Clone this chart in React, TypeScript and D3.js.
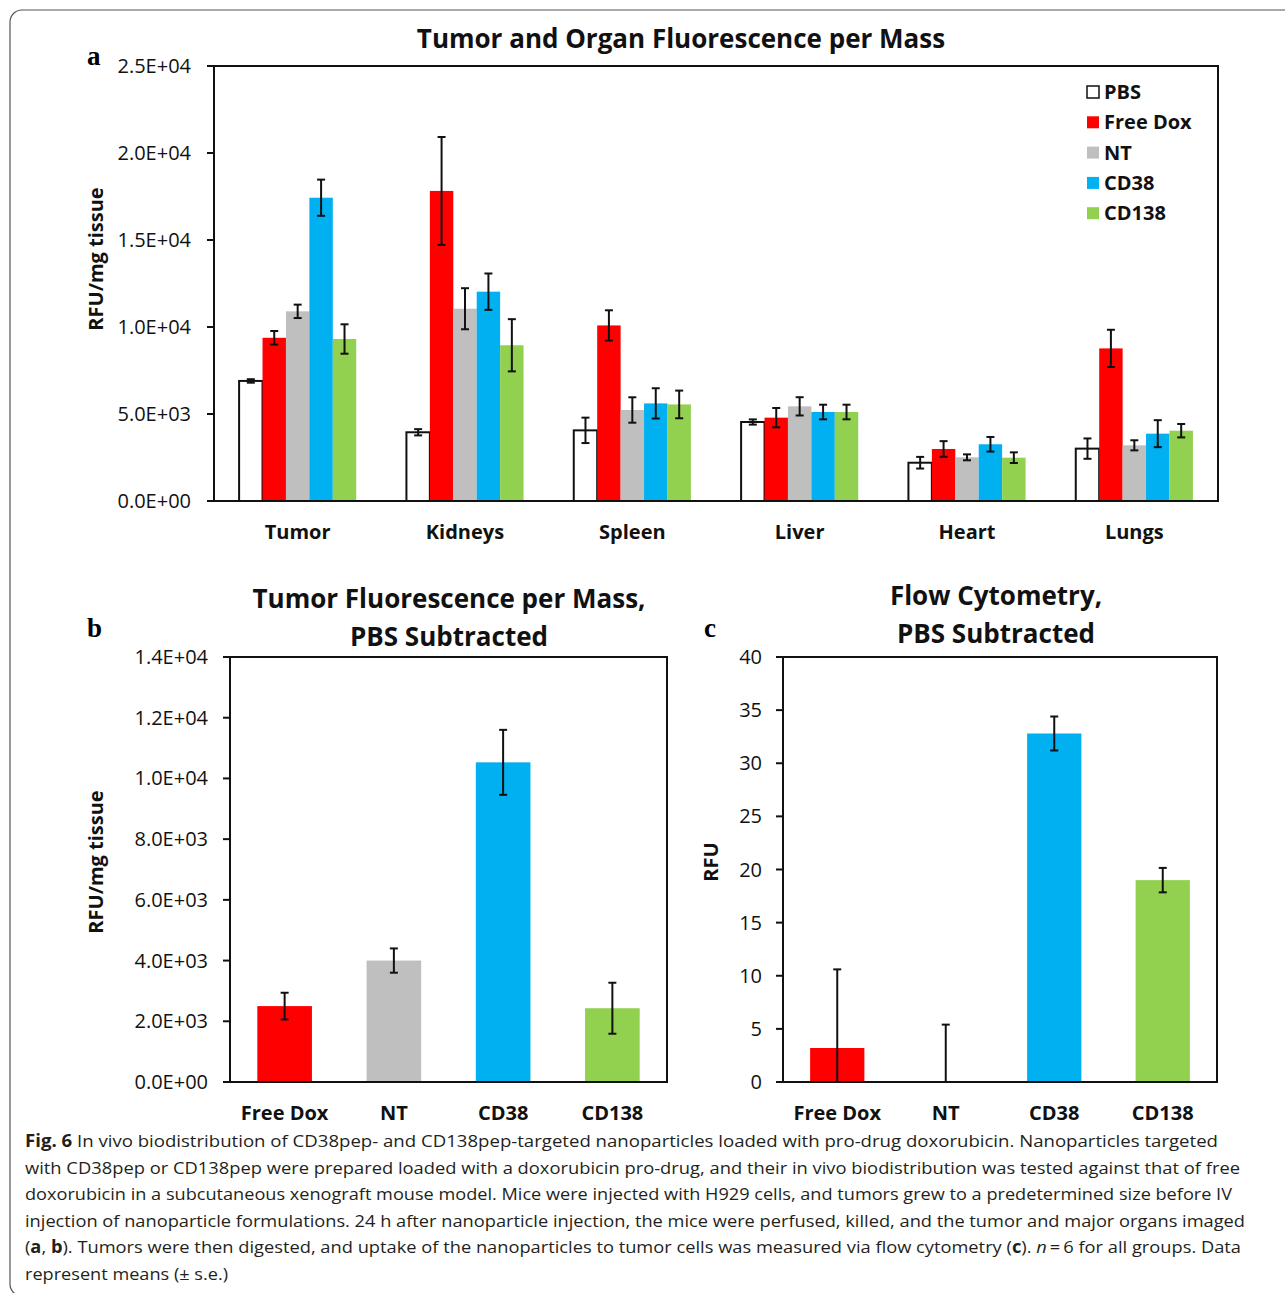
import React from "react";
import * as d3 from "d3";

const W = 1285;
const H = 1293;
const FONT = "'Open Sans', 'Noto Sans', sans-serif";
const SERIF = "'Liberation Serif', 'DejaVu Serif', serif";

// panel a: tumor and organ fluorescence per mass
const organs = ["Tumor", "Kidneys", "Spleen", "Liver", "Heart", "Lungs"];
const groups = ["PBS", "Free Dox", "NT", "CD38", "CD138"];
const groupColors = ["#ffffff", "#ff0000", "#bfbfbf", "#00b0f0", "#92d050"];
const pbsMeans = [6900, 3950, 4060, 4540, 2200, 3010];
const pbsErr = [100, 180, 730, 150, 335, 585];
const freeDoxMeans = [9380, 17820, 10090, 4790, 2990, 8770];
const freeDoxErr = [390, 3100, 870, 555, 450, 1070];
const ntMeans = [10900, 11050, 5230, 5440, 2510, 3200];
const ntErr = [385, 1180, 730, 525, 170, 290];
const cd38Means = [17430, 12030, 5610, 5115, 3260, 3870];
const cd38Err = [1040, 1045, 870, 420, 420, 775];
const cd138Means = [9310, 8950, 5550, 5115, 2490, 4040];
const cd138Err = [845, 1500, 795, 420, 305, 385];
const organTicks = [0, 5000, 10000, 15000, 20000, 25000];

// panel b: tumor fluorescence, PBS subtracted
const subGroups = ["Free Dox", "NT", "CD38", "CD138"];
const subColors = ["#ff0000", "#bfbfbf", "#00b0f0", "#92d050"];
const tumorSubMeans = [2500, 4000, 10530, 2430];
const tumorSubErr = [440, 400, 1070, 840];
const tumorSubTicks = [0, 2000, 4000, 6000, 8000, 10000, 12000, 14000];

// panel c: flow cytometry, PBS subtracted
const flowMeans = [3.2, 0, 32.8, 19.0];
const flowErr = [7.4, 5.4, 1.6, 1.15];
const flowTicks = [0, 5, 10, 15, 20, 25, 30, 35, 40];

const captionLines = [
  "In vivo biodistribution of CD38pep- and CD138pep-targeted nanoparticles loaded with pro-drug doxorubicin. Nanoparticles targeted",
  "with CD38pep or CD138pep were prepared loaded with a doxorubicin pro-drug, and their in vivo biodistribution was tested against that of free",
  "doxorubicin in a subcutaneous xenograft mouse model. Mice were injected with H929 cells, and tumors grew to a predetermined size before IV",
  "injection of nanoparticle formulations. 24 h after nanoparticle injection, the mice were perfused, killed, and the tumor and major organs imaged",
];

function fmtE(v) {
  if (v === 0) return "0.0E+00";
  const e = Math.floor(Math.log10(v));
  const m = v / Math.pow(10, e);
  return `${m.toFixed(1)}E+${String(e).padStart(2, "0")}`;
}

function ErrorBar({ x, y, mean, err, cap = 4 }) {
  const lo = Math.max(0, mean - err);
  const yTop = y(mean + err);
  const yBot = y(lo);
  return (
    <g stroke="#111" strokeWidth={2}>
      <line x1={x} x2={x} y1={yTop} y2={yBot} />
      <line x1={x - cap} x2={x + cap} y1={yTop} y2={yTop} />
      {mean - err >= 0 && <line x1={x - cap} x2={x + cap} y1={yBot} y2={yBot} />}
    </g>
  );
}

function Frame({ x0, x1, y0, y1 }) {
  return (
    <rect x={x0} y={y1} width={x1 - x0} height={y0 - y1} fill="none" stroke="#111" strokeWidth={2} />
  );
}

function YTicks({ y, ticks, x, fmt, gap }) {
  return (
    <g>
      {ticks.map((t) => (
        <g key={t}>
          <line x1={x - 7} x2={x} y1={y(t)} y2={y(t)} stroke="#111" strokeWidth={2} />
          <text x={x - gap} y={y(t) + 7} textAnchor="end" fontFamily={FONT} fontSize={20} fill="#111">
            {fmt(t)}
          </text>
        </g>
      ))}
    </g>
  );
}

function PanelA() {
  const x0 = d3.scaleBand().domain(organs).range([214, 1218]).paddingInner(0.3).paddingOuter(0.15);
  const x1 = d3.scaleBand().domain(groups).range([0, x0.bandwidth()]);
  const y = d3.scaleLinear().domain([0, 25000]).range([501, 66]);
  const means = [pbsMeans, freeDoxMeans, ntMeans, cd38Means, cd138Means];
  const errs = [pbsErr, freeDoxErr, ntErr, cd38Err, cd138Err];
  return (
    <g>
      <text x={681} y={48} textAnchor="middle" fontFamily={FONT} fontWeight={700} fontSize={26} fill="#111">
        Tumor and Organ Fluorescence per Mass
      </text>
      <text x={87} y={65} fontFamily={SERIF} fontWeight={700} fontSize={27}>a</text>
      <text transform="translate(103,259) rotate(-90)" textAnchor="middle" fontFamily={FONT} fontWeight={700} fontSize={20} fill="#111">
        RFU/mg tissue
      </text>
      {groups.map((g, gi) =>
        organs.map((o, oi) => (
          <rect
            key={g + o}
            x={x0(o) + x1(g)}
            y={y(means[gi][oi])}
            width={x1.bandwidth()}
            height={y(0) - y(means[gi][oi])}
            fill={groupColors[gi]}
            stroke={gi === 0 ? "#111" : "none"}
            strokeWidth={2}
          />
        ))
      )}
      {groups.map((g, gi) =>
        organs.map((o, oi) => (
          <ErrorBar key={g + o} x={x0(o) + x1(g) + x1.bandwidth() / 2} y={y} mean={means[gi][oi]} err={errs[gi][oi]} />
        ))
      )}
      <Frame x0={214} x1={1218} y0={501} y1={66} />
      <YTicks y={y} ticks={organTicks} x={214} fmt={fmtE} gap={23} />
      {organs.map((o) => (
        <text key={o} x={x0(o) + x0.bandwidth() / 2} y={539} textAnchor="middle" fontFamily={FONT} fontWeight={700} fontSize={20} fill="#111">
          {o}
        </text>
      ))}
      {groups.map((g, gi) => (
        <g key={g} transform={`translate(1087,${92 + gi * 30.3})`}>
          <rect x={0} y={-6} width={12} height={12} fill={groupColors[gi]} stroke={gi === 0 ? "#111" : "none"} strokeWidth={1.5} />
          <text x={17} y={7} fontFamily={FONT} fontWeight={700} fontSize={20} fill="#111">{g}</text>
        </g>
      ))}
    </g>
  );
}

function SubPanel({ x0, x1, y, means, errs, ticks, fmt, gap, title, letter, letterX, yLabel, yLabelX, titleX, titleY }) {
  const x = d3.scaleBand().domain(subGroups).range([x0, x1]).paddingInner(0.5).paddingOuter(0.25);
  return (
    <g>
      {title.map((t, i) => (
        <text key={t} x={titleX} y={titleY + i * 37.5} textAnchor="middle" fontFamily={FONT} fontWeight={700} fontSize={26} fill="#111">
          {t}
        </text>
      ))}
      <text x={letterX} y={637} fontFamily={SERIF} fontWeight={700} fontSize={27}>{letter}</text>
      <text transform={`translate(${yLabelX},862) rotate(-90)`} textAnchor="middle" fontFamily={FONT} fontWeight={700} fontSize={20} fill="#111">
        {yLabel}
      </text>
      {subGroups.map((g, i) => (
        <rect key={g} x={x(g)} y={y(Math.max(0, means[i]))} width={x.bandwidth()} height={y(0) - y(Math.max(0, means[i]))} fill={subColors[i]} />
      ))}
      {subGroups.map((g, i) => (
        <ErrorBar key={g} x={x(g) + x.bandwidth() / 2} y={y} mean={means[i]} err={errs[i]} />
      ))}
      <Frame x0={x0} x1={x1} y0={1082} y1={657} />
      <YTicks y={y} ticks={ticks} x={x0} fmt={fmt} gap={gap} />
      {subGroups.map((g) => (
        <text key={g} x={x(g) + x.bandwidth() / 2} y={1120} textAnchor="middle" fontFamily={FONT} fontWeight={700} fontSize={20} fill="#111">
          {g}
        </text>
      ))}
    </g>
  );
}

function Caption() {
  const base = 1147;
  const lh = 26.6;
  const common = { fontFamily: FONT, fontSize: 17, fill: "#231f20", lengthAdjust: "spacingAndGlyphs" };
  return (
    <g>
      <text x={25} y={base} {...common} textLength={1193}>
        <tspan fontWeight={700}>Fig. 6</tspan>
        {"  " + captionLines[0]}
      </text>
      <text x={25} y={base + lh} {...common} textLength={1215}>{captionLines[1]}</text>
      <text x={25} y={base + 2 * lh} {...common} textLength={1207}>{captionLines[2]}</text>
      <text x={25} y={base + 3 * lh} {...common} textLength={1220}>{captionLines[3]}</text>
      <text x={25} y={base + 4 * lh} {...common} textLength={1216}>
        (<tspan fontWeight={700}>a</tspan>, <tspan fontWeight={700}>b</tspan>). Tumors were then digested, and uptake of the nanoparticles to tumor cells was measured via flow cytometry (<tspan fontWeight={700}>c</tspan>). <tspan fontStyle="italic">n</tspan>{"\u2009=\u20096 for all groups. Data"}
      </text>
      <text x={25} y={base + 5 * lh} {...common} textLength={203}>represent means (± s.e.)</text>
    </g>
  );
}

export default function App() {
  const yB = d3.scaleLinear().domain([0, 14000]).range([1082, 657]);
  const yC = d3.scaleLinear().domain([0, 40]).range([1082, 657]);
  return (
    <svg width={W} height={H} style={{ position: "absolute", left: 0, top: 0, background: "#fff" }}>
      <rect x={10} y={10} width={1320} height={1286} rx={12} fill="#fff" stroke="#555" strokeWidth={1.2} />
      <PanelA />
      <SubPanel
        x0={230} x1={667} y={yB} means={tumorSubMeans} errs={tumorSubErr} ticks={tumorSubTicks}
        fmt={fmtE} gap={22} title={["Tumor Fluorescence per Mass,", "PBS Subtracted"]}
        letter="b" letterX={87} yLabel="RFU/mg tissue" yLabelX={103} titleX={449} titleY={608}
      />
      <SubPanel
        x0={783} x1={1217} y={yC} means={flowMeans} errs={flowErr} ticks={flowTicks}
        fmt={(v) => String(v)} gap={21} title={["Flow Cytometry,", "PBS Subtracted"]}
        letter="c" letterX={704} yLabel="RFU" yLabelX={718} titleX={996} titleY={605}
      />
      <Caption />
    </svg>
  );
}
